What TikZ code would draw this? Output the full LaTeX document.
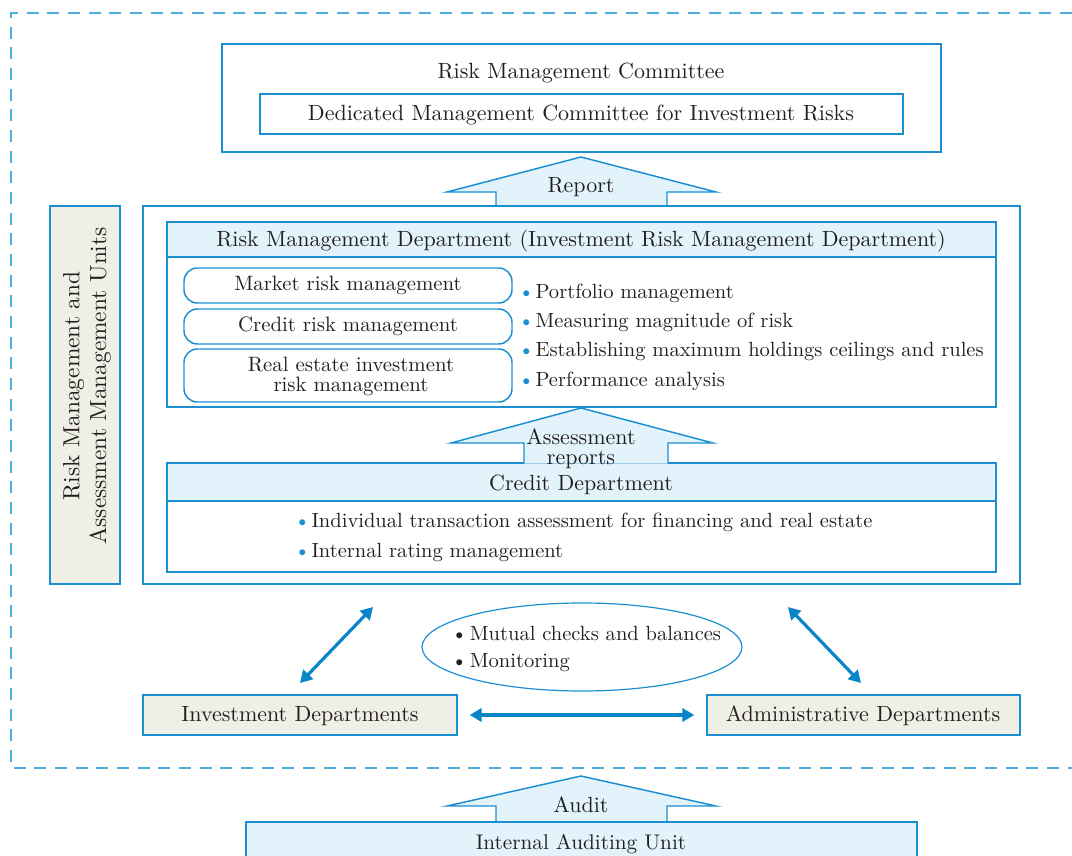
\documentclass[tikz,border=0pt]{standalone}
\usepackage{fontspec}
\setmainfont{lmroman10-regular.otf}
\usetikzlibrary{arrows.meta,fit,shapes.geometric}
\definecolor{bl}{HTML}{1B8FD2}
\definecolor{dashbl}{HTML}{4DAEE0}
\definecolor{lb}{HTML}{E2F3FB}
\definecolor{bg}{HTML}{EFEFE6}
\definecolor{tx}{HTML}{231F20}
\definecolor{arr}{HTML}{0A86C8}
\begin{document}
\begin{tikzpicture}[x=0.75pt,y=-0.75pt,
  every node/.style={font=\fontsize{16.5}{18}\selectfont, text=tx},
  box/.style={draw=bl, line width=1.1pt, inner sep=0pt},
  lbbox/.style={box, fill=lb},
  bgbox/.style={box, fill=bg},
  rbox/.style={box, rounded corners=10pt},
  barrow/.style={draw=bl, fill=lb, line width=1.1pt},
  dbl/.style={arr, line width=2.4pt, {Triangle[length=9pt,width=10pt]}-{Triangle[length=9pt,width=10pt]}},
  bul/.style={anchor=west, inner sep=0pt, font=\fontsize{15.4}{18}\selectfont},
  itm/.style={font=\fontsize{15.6}{15}\selectfont},
  ]
\useasboundingbox (0,0) rectangle (1072,856);
% dashed frame
\draw[dashbl, line width=1.3pt, dash pattern=on 9pt off 6.5pt] (1072,13) -- (11,13) -- (11,768) -- (1072,768);

% committee
\node[box, fit={(222,44)(941,152)}] (rmc) {};
\node (rmct) at (581,73) {Risk Management Committee};
\node[box, fit={(260,94)(903,134)}] (dmc) {};
\node at (581,115) {Dedicated Management Committee for Investment Risks};

% report arrow
\draw[barrow] (496,206) -- (496,192) -- (447,192) -- (581,157) -- (716,192) -- (667,192) -- (667,206);
\node (rep) at (581,187) {Report};

% left vertical label
\node[bgbox, fit={(50,206)(120,584)}] (unit) {};
\node[rotate=90, align=center, font=\fontsize{17.5}{20}\selectfont] at (87,386) {Risk Management and\\Assessment Management Units};

% big box
\node[box, fit={(143,206)(1020,584)}] (big) {};

% RMD
\node[lbbox, fit={(167,222)(996,257)}] (rmdh) {};
\node at (581,241) {Risk Management Department (Investment Risk Management Department)};
\node[box, fit={(167,257)(996,407)}] (rmdb) {};

\node[rbox, fit={(184,268)(512,303)}] (mrm) {};
\node[itm] at (mrm.center) {Market risk management};
\node[rbox, fit={(184,309)(512,344)}] (crm) {};
\node[itm] at (crm.center) {Credit risk management};
\node[rbox, fit={(184,349)(512,402)}] (rerm) {};
\node[itm, align=center] at (351,376) {Real estate investment\\risk management};

\node[bul] (b1) at (518,293) {\textcolor{bl}{\textbullet}\kern1pt Portfolio management};
\node[bul] (b2) at (518,322) {\textcolor{bl}{\textbullet}\kern1pt Measuring magnitude of risk};
\node[bul] (b3) at (518,351) {\textcolor{bl}{\textbullet}\kern1pt Establishing maximum holdings ceilings and rules};
\node[bul] (b4) at (518,381) {\textcolor{bl}{\textbullet}\kern1pt Performance analysis};

% credit
\node[lbbox, fit={(167,463)(996,501)}] (cdh) {};
\node[box, fit={(167,501)(996,572)}] (cdb) {};
\draw[barrow] (524,463.5) -- (524,443) -- (451,443) -- (581,408) -- (713,443) -- (668,443) -- (668,463.5);
\node[align=center, font=\fontsize{16.5}{15}\selectfont] (asr) at (581,449) {Assessment\\reports};
\node at (581,485) {Credit Department};
\node[bul] (c1) at (294,522) {\textcolor{bl}{\textbullet}\kern1pt Individual transaction assessment for financing and real estate};
\node[bul] (c2) at (294,552) {\textcolor{bl}{\textbullet}\kern1pt Internal rating management};

% ellipse
\node[ellipse, draw=bl, line width=0.9pt, minimum width=240pt, minimum height=66pt, inner sep=0pt] (mon) at (582,647) {};
\node[bul] (m1) at (451,633) {\textbullet\kern2pt Mutual checks and balances};
\node[bul] (m2) at (451,663) {\textbullet\kern2pt Monitoring};

% departments
\node[bgbox, fit={(143,695)(457,735)}] (inv) {};
\node at (300,716) {Investment Departments};
\node[bgbox, fit={(707,695)(1020,735)}] (adm) {};
\node at (863,716) {Administrative Departments};

\coordinate (la) at (373,607);
\coordinate (lb) at (300,683);
\coordinate (ra) at (788,607);
\coordinate (rb) at (861,683);
\draw[dbl] (la) -- (lb);
\draw[dbl] (ra) -- (rb);
\path (inv.east) ++(9pt,0) coordinate (ha);
\path (adm.west) ++(-9pt,0) coordinate (hb);
\draw[dbl] (ha) -- (hb);

% audit
\draw[barrow] (496,822) -- (496,806) -- (447,806) -- (581,776) -- (716,806) -- (667,806) -- (667,822);
\node[lbbox, fit={(246,822)(917,880)}] (iau) {};
\node (aud) at (581,805) {Audit};
\node[font=\fontsize{15.9}{18}\selectfont] at (581,844) {Internal Auditing Unit};
\end{tikzpicture}
\end{document}
